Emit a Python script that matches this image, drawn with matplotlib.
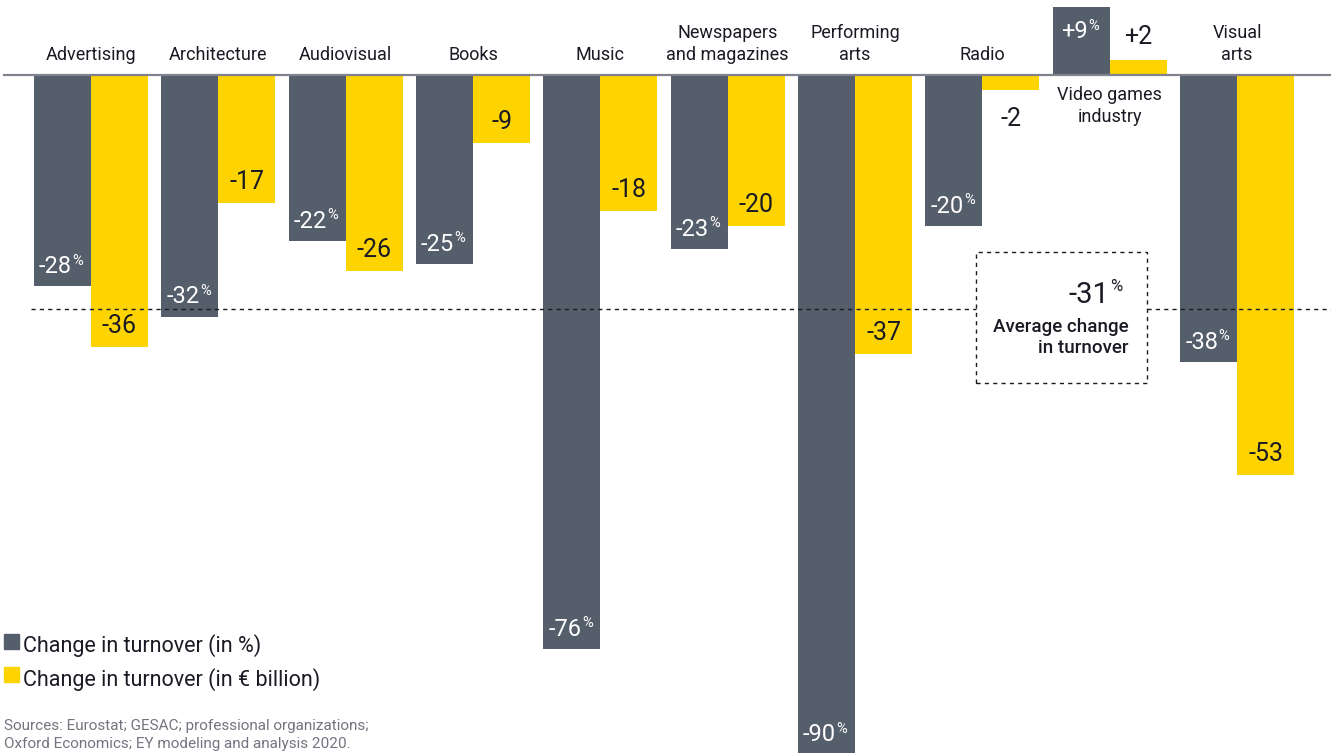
import matplotlib
matplotlib.use("Agg")
import matplotlib.pyplot as plt
from matplotlib.patches import Rectangle
import numpy as np

plt.rcParams['font.family'] = ['Roboto', 'DejaVu Sans']

# data
categories = ['Advertising', 'Architecture', 'Audiovisual', 'Books', 'Music',
              'Newspapers\nand magazines', 'Performing\narts', 'Radio',
              'Video games\nindustry', 'Visual\narts']
pct_change = [-28, -32, -22, -25, -76, -23, -90, -20, 9, -38]
eur_change = [-36, -17, -26, -9, -18, -20, -37, -2, 2, -53]
avg_change = -31

GREY = '#555e6b'
YELLOW = '#fdd300'
DARK = '#1a1a24'
SRC = '#747480'

fig = plt.figure(figsize=(13.31, 7.53), dpi=100)
ax = fig.add_axes([0, 0, 1, 1])
ax.set_xlim(-0.7146, 9.737)
ax.set_ylim(-89.8, 9.93)
ax.axis('off')

x = np.arange(len(categories))
w = 0.448
ax.bar(x - w / 2, pct_change, w, color=GREY, zorder=2)
ax.bar(x + w / 2, eur_change, w, color=YELLOW, zorder=2)

# baseline
ax.plot([-0.68, 9.737], [0, 0], color='#80838f', lw=1.6, zorder=3)

# category labels
for i, c in enumerate(categories):
    if i == 8:
        ax.text(i, -1.5, c, ha='center', va='top', fontsize=13, color=DARK,
                linespacing=1.25)
    else:
        ax.text(i, 1.5, c, ha='center', va='bottom', fontsize=13, color=DARK,
                linespacing=1.25)

# value labels
for i, (p, e) in enumerate(zip(pct_change, eur_change)):
    s = '%+d' % p if p > 0 else '%d' % p
    yp = p + 2.6 if p < 0 else p - 3.3
    t = ax.annotate(s, (i - w / 2, yp), xytext=(-5, 0), textcoords='offset points',
                    ha='center', va='center', fontsize=17, color='white',
                    zorder=4)
    ax.annotate('%', xy=(1, 1), xycoords=t, xytext=(0.3, 1.2), textcoords='offset points',
                ha='left', va='top', fontsize=10.5, color='white', zorder=4)
    se = '%+d' % e if e > 0 else '%d' % e
    if abs(e) < 5:
        ye = e - 3.8 if e < 0 else e + 3.0
    else:
        ye = e + 2.8
    ax.text(i + w / 2, ye, se, ha='center', va='center', fontsize=18, color=DARK,
            zorder=4)

# average line and box
bx0, bx1 = 6.9505, 8.2933
by0, by1 = -40.8, -23.4
ax.plot([-0.4685, bx0], [avg_change, avg_change], color=DARK, lw=1,
        ls=(0, (3, 3)), zorder=5)
ax.plot([bx1, 9.737], [avg_change, avg_change], color=DARK, lw=1,
        ls=(0, (3, 3)), zorder=5)
ax.add_patch(Rectangle((bx0, by0), bx1 - bx0, by1 - by0, fill=False,
                       ec=DARK, lw=1, ls=(0, (3, 3)), zorder=5))
tv = ax.annotate('%d' % avg_change, (8.15, -29.1), xytext=(-14, 0),
                 textcoords='offset points', ha='right', va='center',
                 fontsize=21, color=DARK)
ax.annotate('%', xy=(1, 1), xycoords=tv, xytext=(0.3, 1.2), textcoords='offset points',
            ha='left', va='top', fontsize=12, color=DARK)
ax.text(8.15, -32.2, 'Average change\nin turnover', ha='right', va='top',
        fontsize=13.5, color=DARK, fontweight='medium', linespacing=1.2)

# legend
ax.add_patch(Rectangle((-0.683, -76.0), 0.118, 2.0, color=GREY))
ax.add_patch(Rectangle((-0.683, -80.4), 0.118, 2.0, color=YELLOW))
ax.text(-0.534, -75.6, 'Change in turnover (in %)', ha='left', va='center',
        fontsize=15.5, color=DARK)
ax.text(-0.534, -80.1, 'Change in turnover (in € billion)', ha='left', va='center',
        fontsize=15.5, color=DARK)

# sources
ax.text(-0.683, -87.4, 'Sources: Eurostat; GESAC; professional organizations;\n'
        'Oxford Economics; EY modeling and analysis 2020.', ha='left', va='center',
        fontsize=11, color=SRC, linespacing=1.3)

fig.savefig('out.png', dpi=100)
